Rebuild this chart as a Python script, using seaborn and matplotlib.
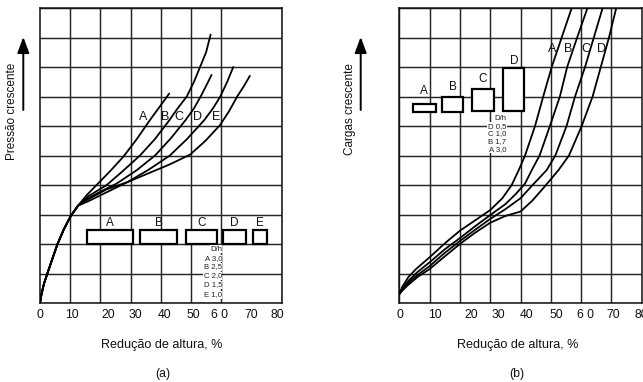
import matplotlib
matplotlib.use("Agg")
import matplotlib.pyplot as plt
import numpy as np
import pandas as pd
import seaborn as sns
from matplotlib.patches import Rectangle

sns.set_theme(style="white")
plt.rcParams['font.family'] = ['Liberation Sans', 'DejaVu Sans']

# ---------------- Panel (a) data ----------------
trunk_x = [0, 0.5, 1.3, 2.6, 4.1, 5.8, 7.9, 10.2, 12.6]
trunk_y = [0, 0.3, 0.65, 1.05, 1.5, 2.0, 2.5, 2.95, 3.3]

a_A_x = [15.5, 19.3, 23.5, 27.6, 32, 36.4, 39.6, 42.8]
a_A_y = [3.66, 4.06, 4.5, 4.96, 5.55, 6.2, 6.65, 7.1]
a_B_x = [16, 22.1, 27.5, 33.1, 38, 42.5, 45.6, 48.6, 51, 53, 55, 56.5]
a_B_y = [3.62, 4.0, 4.48, 5.0, 5.55, 6.15, 6.6, 7.0, 7.5, 8.0, 8.5, 9.1]
a_C_x = [16.5, 20.5, 25.4, 32, 38.1, 43.3, 48.2, 51, 53.2, 55.1, 56.8]
a_C_y = [3.58, 3.8, 4.05, 4.5, 5.0, 5.58, 6.2, 6.6, 7.0, 7.38, 7.73]
a_D_x = [16, 22, 29, 36, 43, 48.6, 54.4, 57.3, 59.7, 62, 64]
a_D_y = [3.45, 3.75, 4.1, 4.52, 5.0, 5.55, 6.2, 6.6, 7.0, 7.5, 8.0]
a_E_x = [16, 22, 29, 36, 43, 49.7, 54.8, 59.6, 62.6, 65.3, 67.5, 69.5]
a_E_y = [3.52, 3.85, 4.1, 4.4, 4.7, 5.03, 5.5, 6.03, 6.5, 7.0, 7.35, 7.7]

a_curve_names = ["A", "B", "C", "D", "E"]
a_label_x = [34.2, 41.4, 46.0, 52.0, 58.3]
a_label_y = [6.3, 6.3, 6.3, 6.3, 6.3]

a_box_names = ["A", "B", "C", "D", "E"]
a_box_x0 = [15.7, 33.1, 48.3, 60.7, 70.6]
a_box_x1 = [30.7, 45.5, 58.5, 68.1, 75.1]
a_box_y0 = [2.0, 2.0, 2.0, 2.0, 2.0]
a_box_y1 = [2.47, 2.47, 2.47, 2.47, 2.47]
a_box_label_y = [2.72, 2.72, 2.72, 2.72, 2.72]

a_dh_text = ["D/h", "A 3,0", "B 2,5", "C 2,0", "D 1,5", "E 1,0"]
a_dh_y = [1.82, 1.51, 1.23, 0.92, 0.61, 0.27]

a_tick_pos = [0, 10.5, 22.6, 31.5, 41.1, 50.8, 59.6, 70, 78.6]
b_tick_pos = [0.2, 11.8, 23.9, 32.6, 42, 51.9, 61.3, 70.6, 80]
tick_labels = ["0", "10", "20", "30", "40", "50", "6 0", "70", "80"]

# ---------------- Panel (b) data ----------------
b_A_x = [0, 1, 3, 5.5, 10, 15, 20, 25, 30, 34, 37.1, 39.4, 41.5, 44.8, 47.5, 50.3, 53.6, 56.9]
b_A_y = [0.3, 0.55, 0.88, 1.15, 1.55, 2.02, 2.45, 2.8, 3.15, 3.55, 4.0, 4.5, 5.0, 6.0, 7.0, 8.0, 9.0, 10.0]
b_B_x = [0, 1, 3, 6, 10, 15, 20, 25, 30, 35, 38.5, 41.5, 43.7, 46.3, 49.7, 53, 55.4, 58.7, 62.1]
b_B_y = [0.3, 0.48, 0.75, 1.05, 1.38, 1.82, 2.2, 2.6, 2.98, 3.35, 3.7, 4.05, 4.5, 5.0, 6.0, 7.0, 8.0, 9.0, 10.0]
b_C_x = [0, 1, 3, 6, 10, 15, 20, 25, 30, 35, 40, 44, 48.6, 51.5, 55.2, 58, 61.3, 64.2, 67.1]
b_C_y = [0.3, 0.45, 0.68, 0.95, 1.25, 1.7, 2.1, 2.48, 2.85, 3.18, 3.55, 4.0, 4.5, 5.0, 6.0, 7.0, 8.0, 9.0, 10.0]
b_D_x = [0, 1, 3, 6, 10, 15, 20, 25, 30, 35, 40, 44, 48, 52.5, 56, 60.2, 63.8, 66.5, 69.2, 71.6]
b_D_y = [0.3, 0.42, 0.62, 0.88, 1.15, 1.58, 2.0, 2.38, 2.72, 2.95, 3.1, 3.48, 3.95, 4.5, 5.0, 6.0, 7.0, 8.0, 9.0, 10.0]

b_curve_names = ["A", "B", "C", "D"]
b_label_x = [50.6, 55.9, 61.6, 66.6]
b_label_y = [8.6, 8.6, 8.6, 8.6]

b_box_names = ["A", "B", "C", "D"]
b_box_x0 = [4.4, 14.1, 23.9, 34.3]
b_box_x1 = [12.0, 21.1, 31.3, 41.3]
b_box_y0 = [6.46, 6.48, 6.52, 6.5]
b_box_y1 = [6.73, 6.99, 7.24, 7.96]
b_box_label_y = [7.2, 7.33, 7.6, 8.2]

b_dh_text = ["D/h", "D 0,5", "C 1,0", "B 1,7", "A 3,0"]
b_dh_y = [6.26, 5.99, 5.73, 5.47, 5.21]

# ---------------- build tables ----------------
a_rows = []
for name, bx, by in zip(a_curve_names, [a_A_x, a_B_x, a_C_x, a_D_x, a_E_x],
                        [a_A_y, a_B_y, a_C_y, a_D_y, a_E_y]):
    for xv, yv in zip(trunk_x + bx, trunk_y + by):
        a_rows.append((name, xv, yv))
df_a = pd.DataFrame(a_rows, columns=["curve", "x", "y"])

b_rows = []
for name, bx, by in zip(b_curve_names, [b_A_x, b_B_x, b_C_x, b_D_x],
                        [b_A_y, b_B_y, b_C_y, b_D_y]):
    for xv, yv in zip(bx, by):
        b_rows.append((name, xv, yv))
df_b = pd.DataFrame(b_rows, columns=["curve", "x", "y"])

# ---------------- figure ----------------
fig = plt.figure(figsize=(6.43, 3.82), dpi=100)
fig.patch.set_facecolor("white")
W, H = 643, 382
ax_a = fig.add_axes([40 / W, (H - 303) / H, 241.6 / W, 295 / H])
ax_b = fig.add_axes([399.3 / W, (H - 303) / H, 242.4 / W, 295 / H])

grid_col = "#262626"


def style_axis(ax, tick_pos):
    ax.set_xlim(0, 80)
    ax.set_ylim(0, 10)
    ax.set_facecolor("white")
    ax.set_xticks(range(0, 81, 10), minor=True)
    ax.set_yticks(range(0, 11), minor=True)
    ax.set_yticks([])
    ax.set_xticks(tick_pos)
    ax.set_xticklabels(tick_labels)
    ax.grid(False, which="major")
    ax.grid(True, which="minor", color=grid_col, lw=1.05)
    ax.tick_params(which="both", length=0)
    ax.tick_params(axis="x", which="major", pad=4.5, labelsize=8.8, colors="#111111")
    ax.set_axisbelow(True)
    for s in ax.spines.values():
        s.set_visible(True)
        s.set_color("#111111")
        s.set_linewidth(1.1)
    ax.set_xlabel("")
    ax.set_ylabel("")


sns.lineplot(data=df_a, x="x", y="y", units="curve", estimator=None, sort=False,
             color="black", lw=1.3, ax=ax_a, zorder=3)
sns.lineplot(data=df_b, x="x", y="y", units="curve", estimator=None, sort=False,
             color="black", lw=1.3, ax=ax_b, zorder=3)
style_axis(ax_a, a_tick_pos)
style_axis(ax_b, b_tick_pos)

# boxes
for ax, names, x0s, x1s, y0s, y1s, lys in [
    (ax_a, a_box_names, a_box_x0, a_box_x1, a_box_y0, a_box_y1, a_box_label_y),
    (ax_b, b_box_names, b_box_x0, b_box_x1, b_box_y0, b_box_y1, b_box_label_y)]:
    for n, x0, x1, y0, y1, ly in zip(names, x0s, x1s, y0s, y1s, lys):
        ax.add_patch(Rectangle((x0, y0), x1 - x0, y1 - y0, facecolor="white",
                               edgecolor="black", lw=1.6, zorder=4))
        ax.text((x0 + x1) / 2, ly, n, ha="center", va="center", fontsize=8.5,
                color="#111111", zorder=5)

# curve labels
for n, lx, ly in zip(a_curve_names, a_label_x, a_label_y):
    ax_a.text(lx, ly, n, ha="center", va="center", fontsize=9, color="#111111", zorder=5)
for n, lx, ly in zip(b_curve_names, b_label_x, b_label_y):
    ax_b.text(lx, ly, n, ha="center", va="center", fontsize=9, color="#111111", zorder=5)

# D/h legends
for t, ty in zip(a_dh_text, a_dh_y):
    ax_a.text(60.3, ty, t, ha="right", va="center", fontsize=5.6, color="#222222", zorder=5,
              bbox=dict(facecolor="white", edgecolor="none", pad=0.3))
for t, ty in zip(b_dh_text, b_dh_y):
    ax_b.text(35.3, ty, t, ha="right", va="center", fontsize=5.6, color="#222222", zorder=5,
              bbox=dict(facecolor="white", edgecolor="none", pad=0.3))

# axis titles / captions (figure pixels)
def fpx(x, y):
    return x / W, (H - y) / H

fig.text(*fpx(162, 345), "Redução de altura, %", ha="center", va="center", fontsize=9.1, color="#111111")
fig.text(*fpx(518, 345), "Redução de altura, %", ha="center", va="center", fontsize=9.1, color="#111111")
fig.text(*fpx(163, 374), "(a)", ha="center", va="center", fontsize=8.8, color="#111111")
fig.text(*fpx(517, 374), "(b)", ha="center", va="center", fontsize=8.8, color="#111111")
fig.text(*fpx(12, 111), "Pressão crescente", ha="center", va="center", rotation=90,
         fontsize=8.5, color="#111111")
fig.text(*fpx(350, 109), "Cargas crescente", ha="center", va="center", rotation=90,
         fontsize=8.5, color="#111111")

for xa in [23.3, 360.7]:
    ax_a.annotate("", xy=(xa, H - 37), xytext=(xa, H - 110), xycoords="figure pixels",
                  textcoords="figure pixels", annotation_clip=False,
                  arrowprops=dict(arrowstyle="-|>,head_length=0.8,head_width=0.3",
                                  color="black", lw=1.4, shrinkA=0, shrinkB=0))

fig.savefig("out.png", dpi=100, facecolor="white")
